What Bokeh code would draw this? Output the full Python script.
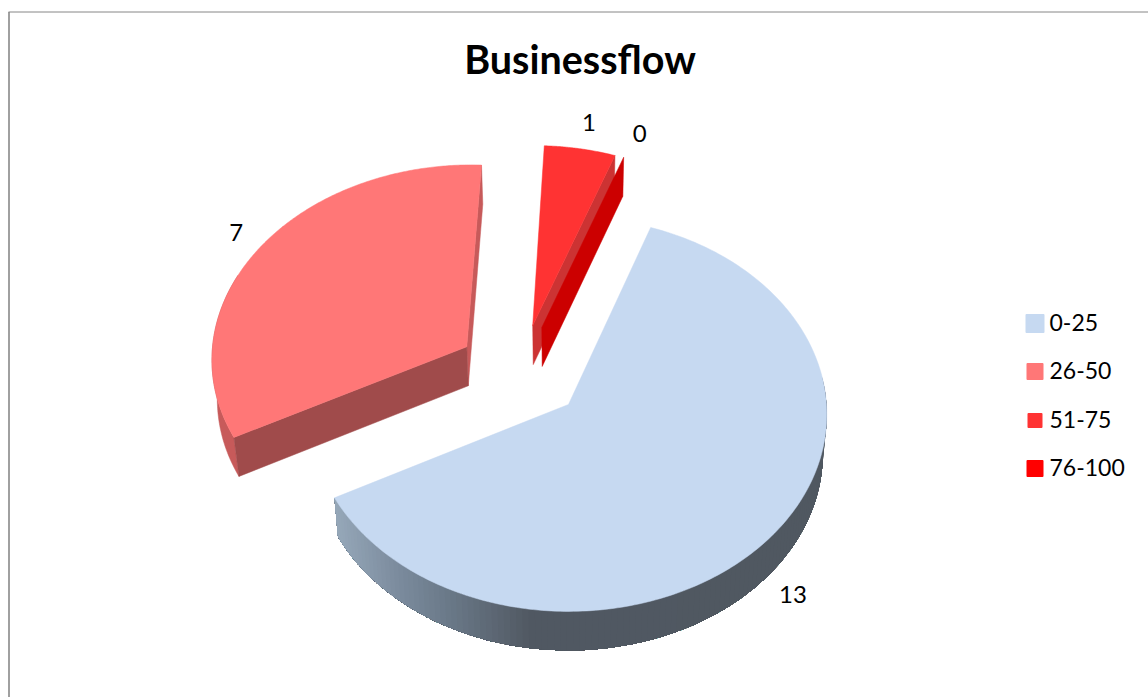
import numpy as np
from bokeh.core.properties import value
from bokeh.embed import file_html
from bokeh.models import ColumnDataSource, Range1d
from bokeh.plotting import figure
from bokeh.resources import INLINE

TITLE = "Businessflow"
categories = ["0-25", "26-50", "51-75", "76-100"]
counts = [13, 7, 1, 0]

top_colors = ["#c6d9f1", "#ff7777", "#ff3333", "#ff0000"]
cut_colors = [None, "#a04b4b", "#cc3333", "#cc0000"]
side_colors = [None, "#c75a5a", "#cc3333", "#cc0000"]
FONT = "Lato"

# Pie geometry in pixels on a 1148x697 canvas
CX, CY, RX, RY = 568.0, 404.0, 258.0, 196.6
PERSPECTIVE = 0.05
DEPTH = 39.0
BASE_SHRINK = 0.985
START_ANGLE = 19.5
EXPLODE = 0.25
PIE_CENTRE = (-0.189, 0.164)
RIM_FIRST_ANGLE = 82.0
label_nudges = [(23, 57), (-24, -15), (9, -26), (16, -24)]
legend_centres = [323, 371, 420, 468]
legend_sizes = [19, 17, 15, 17]

# Gradient of the light-blue rim, by horizontal position
rim_stops = [334, 400, 450, 500, 530, 830]
rim_r = [150, 122, 105, 90, 80, 80]
rim_g = [168, 138, 120, 100, 88, 88]
rim_b = [185, 156, 135, 112, 98, 97]


def project(x, y):
    """Disc coordinates to canvas pixels, with a slight perspective."""
    s = 1.0 / (1.0 + PERSPECTIVE * np.asarray(y, dtype=float))
    return CX + RX * np.asarray(x) * s, CY - RY * np.asarray(y) * s


def lower(px, py):
    """Top-face pixels to the matching pixels on the bottom of the pie."""
    return CX + (np.asarray(px) - CX) * BASE_SHRINK, np.asarray(py) + DEPTH


p = figure(width=1148, height=697, output_backend="svg", toolbar_location=None,
           x_range=Range1d(0, 1148), y_range=Range1d(697, 0),
           min_border=0, outline_line_color=None, background_fill_color="white")
p.axis.visible = False
p.grid.visible = False

# Chart frame
p.line([8.5, 8.5], [697, 11.5], line_color="#a0a0a0", line_width=2)
p.line([8, 1148], [11.5, 11.5], line_color="#868686", line_width=1)

total = sum(counts)
angle = START_ANGLE
slices = []
for i, v in enumerate(counts):
    sweep = 360.0 * v / total
    mid = np.radians(angle + sweep / 2)
    ax = PIE_CENTRE[0] + EXPLODE * np.sin(mid)
    ay = PIE_CENTRE[1] + EXPLODE * np.cos(mid)
    slices.append(dict(start=angle, end=angle + sweep, mid=mid, ax=ax, ay=ay))
    angle += sweep


def arc(sl, t0, t1, n=240):
    t = np.radians(np.linspace(t0, t1, n))
    return project(sl["ax"] + np.sin(t), sl["ay"] + np.cos(t))


def cut_face(sl, t, color):
    rad = np.radians(t)
    ex, ey = project(sl["ax"] + np.sin(rad), sl["ay"] + np.cos(rad))
    ax_px, ay_px = project(sl["ax"], sl["ay"])
    bx0, by0 = lower(ax_px, ay_px)
    bx1, by1 = lower(ex, ey)
    p.patch([ax_px, ex, bx1, bx0], [ay_px, ey, by1, by0],
            fill_color=color, line_color=color, line_width=0.5)


# Rim of the large slice: overlapping bands painted from the right, so no seams show
s0 = slices[0]
ux, uy = arc(s0, RIM_FIRST_ANGLE, s0["end"], 120)
lx, ly = lower(ux, uy)
strip_xs, strip_ys, strip_cols = [], [], []
for j in range(len(ux) - 1):
    mx = (ux[j] + ux[j + 1]) / 2
    col = "#%02x%02x%02x" % tuple(int(round(np.interp(mx, rim_stops, ch))) for ch in (rim_r, rim_g, rim_b))
    strip_xs.append(np.r_[ux[j:], lx[j:][::-1]].tolist())
    strip_ys.append(np.r_[uy[j:], ly[j:][::-1]].tolist())
    strip_cols.append(col)
p.patches("xs", "ys", source=ColumnDataSource(dict(xs=strip_xs, ys=strip_ys, c=strip_cols)),
          fill_color="c", line_color=None)
fx, fy = arc(s0, s0["start"], s0["end"])
p.patch(np.r_[project(s0["ax"], s0["ay"])[0], fx], np.r_[project(s0["ax"], s0["ay"])[1], fy],
        fill_color=top_colors[0], line_color=top_colors[0], line_width=0.5)

# Pink slice: rim on its lower-left side, two visible cut faces, then the top
s1 = slices[1]
ux, uy = arc(s1, s1["start"], s1["start"] + 50, 80)
lx, ly = lower(ux, uy)
p.patch(np.r_[ux, lx[::-1]], np.r_[uy, ly[::-1]], fill_color=side_colors[1],
        line_color=side_colors[1], line_width=0.5)
cut_face(s1, s1["end"], "#c75a5a")
cut_face(s1, s1["start"], cut_colors[1])
fx, fy = arc(s1, s1["start"], s1["end"])
a1x, a1y = project(s1["ax"], s1["ay"])
p.patch(np.r_[a1x, fx], np.r_[a1y, fy], fill_color=top_colors[1],
        line_color=top_colors[1], line_width=0.5)

# Narrow slice, then the zero-width slice that only shows its wall
s2 = slices[2]
cut_face(s2, s2["end"], cut_colors[2])
fx, fy = arc(s2, s2["start"], s2["end"], 60)
a2x, a2y = project(s2["ax"], s2["ay"])
p.patch(np.r_[a2x, fx], np.r_[a2y, fy], fill_color=top_colors[2],
        line_color=top_colors[2], line_width=0.5)
s3 = slices[3]
cut_face(s3, s3["end"], cut_colors[3])

# Value labels, anchored at each slice's outer edge
for sl, v, (nx, ny) in zip(slices, counts, label_nudges):
    ox, oy = project(sl["ax"] + np.sin(sl["mid"]), sl["ay"] + np.cos(sl["mid"]))
    p.text([float(ox) + nx], [float(oy) + ny], text=[str(v)], text_align="center",
           text_baseline="middle", text_font=value(FONT), text_font_size="24px", text_color="black")

# Title
p.text([579.5], [57.5], text=[TITLE], text_align="center", text_baseline="middle",
       text_font=value(FONT), text_font_style="bold", text_font_size="39.5px", text_color="black")

# Legend
for cat, col, yc, sz in zip(categories, top_colors, legend_centres, legend_sizes):
    p.quad(left=[1034.5 - sz / 2 + 1], right=[1034.5 + sz / 2 - 1], top=[yc - sz / 2 + 1], bottom=[yc + sz / 2 - 1],
           fill_color=col, line_color=col, line_width=2, line_join="round")
    p.text([1049], [yc - 1], text=[cat], text_align="left", text_baseline="middle",
           text_font=value(FONT), text_font_size="23px", text_color="black")

open("out.html", "w").write(file_html(p, INLINE))
